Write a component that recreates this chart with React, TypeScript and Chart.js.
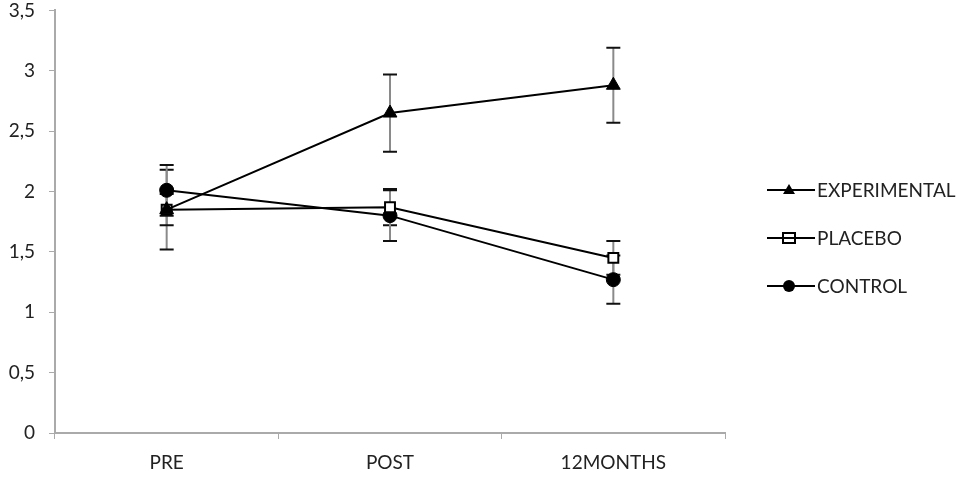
import React, { useEffect, useRef } from "react";
import { Chart, registerables } from "chart.js";

Chart.register(...registerables);

const categories = ["PRE", "POST", "12MONTHS"];
const experimental = [1.85, 2.65, 2.88];
const experimentalErr = [0.33, 0.32, 0.31];
const placebo = [1.85, 1.87, 1.45];
const placeboErr = [0.13, 0.15, 0.14];
const control = [2.01, 1.8, 1.27];
const controlErr = [0.21, 0.21, 0.2];
const yTicks = [0, 0.5, 1, 1.5, 2, 2.5, 3, 3.5];

const FONT = "Lato, 'Open Sans', sans-serif";
const FSIZE = 19;
const SHIFT = 15;

const errorBarPlugin = {
  id: "errorBars",
  beforeDatasetsDraw(chart: any) {
    const ctx = chart.ctx;
    const y = chart.scales.y;
    chart.data.datasets.forEach((ds: any, di: number) => {
      const meta = chart.getDatasetMeta(di);
      const errs = ds.errors as number[];
      meta.data.forEach((pt: any, i: number) => {
        const v = ds.data[i];
        const e = errs[i];
        const yt = y.getPixelForValue(v + e);
        const yb = y.getPixelForValue(v - e);
        const x = pt.x;
        ctx.save();
        ctx.strokeStyle = "#8a8a8a";
        ctx.lineWidth = 2;
        ctx.beginPath();
        ctx.moveTo(x, yt);
        ctx.lineTo(x, yb);
        ctx.stroke();
        ctx.strokeStyle = "#111";
        ctx.lineWidth = 2;
        ctx.beginPath();
        ctx.moveTo(x - 7, yt);
        ctx.lineTo(x + 7, yt);
        ctx.moveTo(x - 7, yb);
        ctx.lineTo(x + 7, yb);
        ctx.stroke();
        ctx.restore();
      });
    });
  },
};

const legendPlugin = {
  id: "customLegend",
  afterDraw(chart: any) {
    const ctx = chart.ctx;
    const x0 = 767;
    const ys = [190, 238, 286].map((v) => v + SHIFT);
    chart.data.datasets.forEach((ds: any, i: number) => {
      const yy = ys[i];
      ctx.save();
      ctx.strokeStyle = "#000";
      ctx.lineWidth = 2;
      ctx.beginPath();
      ctx.moveTo(x0, yy);
      ctx.lineTo(x0 + 48, yy);
      ctx.stroke();
      const cx = x0 + 22;
      ctx.fillStyle = "#000";
      if (ds.pointStyle === "triangle") {
        ctx.beginPath();
        ctx.moveTo(cx, yy - 6);
        ctx.lineTo(cx + 6, yy + 4);
        ctx.lineTo(cx - 6, yy + 4);
        ctx.closePath();
        ctx.fill();
      } else if (ds.pointStyle === "rect") {
        ctx.fillStyle = "#fff";
        ctx.fillRect(cx - 6, yy - 5, 12, 10);
        ctx.strokeRect(cx - 6, yy - 5, 12, 10);
        ctx.beginPath();
        ctx.moveTo(cx - 6, yy);
        ctx.lineTo(cx + 6, yy);
        ctx.stroke();
      } else {
        ctx.beginPath();
        ctx.arc(cx, yy, 6, 0, Math.PI * 2);
        ctx.fill();
      }
      ctx.fillStyle = "#222";
      ctx.font = `${FSIZE}px ${FONT}`;
      ctx.textBaseline = "middle";
      ctx.textAlign = "left";
      ctx.fillText(ds.label, x0 + 50, yy + 1);
      ctx.restore();
    });
  },
};

export default function App() {
  const ref = useRef<HTMLCanvasElement>(null);
  useEffect(() => {
    if (!ref.current) return;
    const chart = new Chart(ref.current, {
      type: "line",
      data: {
        labels: categories,
        datasets: [
          {
            label: "EXPERIMENTAL",
            data: experimental,
            errors: experimentalErr,
            borderColor: "#000",
            backgroundColor: "#000",
            borderWidth: 2,
            pointStyle: "triangle",
            pointRadius: 8,
            pointBorderWidth: 1,
          } as any,
          {
            label: "PLACEBO",
            data: placebo,
            errors: placeboErr,
            borderColor: "#000",
            backgroundColor: "#fff",
            borderWidth: 2,
            pointStyle: "rect",
            pointRadius: 7,
            pointBorderWidth: 2,
          } as any,
          {
            label: "CONTROL",
            data: control,
            errors: controlErr,
            borderColor: "#000",
            backgroundColor: "#000",
            borderWidth: 2,
            pointStyle: "circle",
            pointRadius: 7,
            pointBorderWidth: 1,
          } as any,
        ],
      },
      options: {
        animation: false,
        responsive: true,
        maintainAspectRatio: false,
        layout: { padding: { top: 0, right: 250, left: 0, bottom: 0 } },
        plugins: { legend: { display: false }, tooltip: { enabled: false } },
        scales: {
          x: {
            offset: true,
            grid: {
              offset: true,
              drawOnChartArea: false,
              drawTicks: true,
              tickLength: 6,
              color: "#aaa",
            },
            border: { color: "#aaa", width: 2 },
            ticks: {
              color: "#222",
              font: { family: FONT, size: FSIZE },
              padding: 12,
            },
            afterFit(scale: any) {
              scale.height = 44;
            },
          },
          y: {
            min: 0,
            max: 3.5,
            afterBuildTicks(scale: any) {
              scale.ticks = yTicks.map((v) => ({ value: v }));
            },
            grid: {
              drawOnChartArea: false,
              drawTicks: true,
              tickLength: 6,
              color: "#aaa",
            },
            border: { color: "#aaa", width: 2 },
            ticks: {
              color: "#222",
              font: { family: FONT, size: FSIZE },
              padding: 14,
              callback: (v: any) => String(v).replace(".", ","),
            },
            afterFit(scale: any) {
              scale.width = 55;
            },
          },
        },
      } as any,
      plugins: [errorBarPlugin, legendPlugin],
    });
    return () => chart.destroy();
  }, []);
  return (
    <div style={{ position: "fixed", left: 0, top: 0, width: 975, height: 477, background: "#fff", overflow: "hidden" }}>
      <div style={{ position: "absolute", left: 0, top: -SHIFT, width: 975, height: 477 + SHIFT }}>
        <canvas ref={ref} />
      </div>
    </div>
  );
}
